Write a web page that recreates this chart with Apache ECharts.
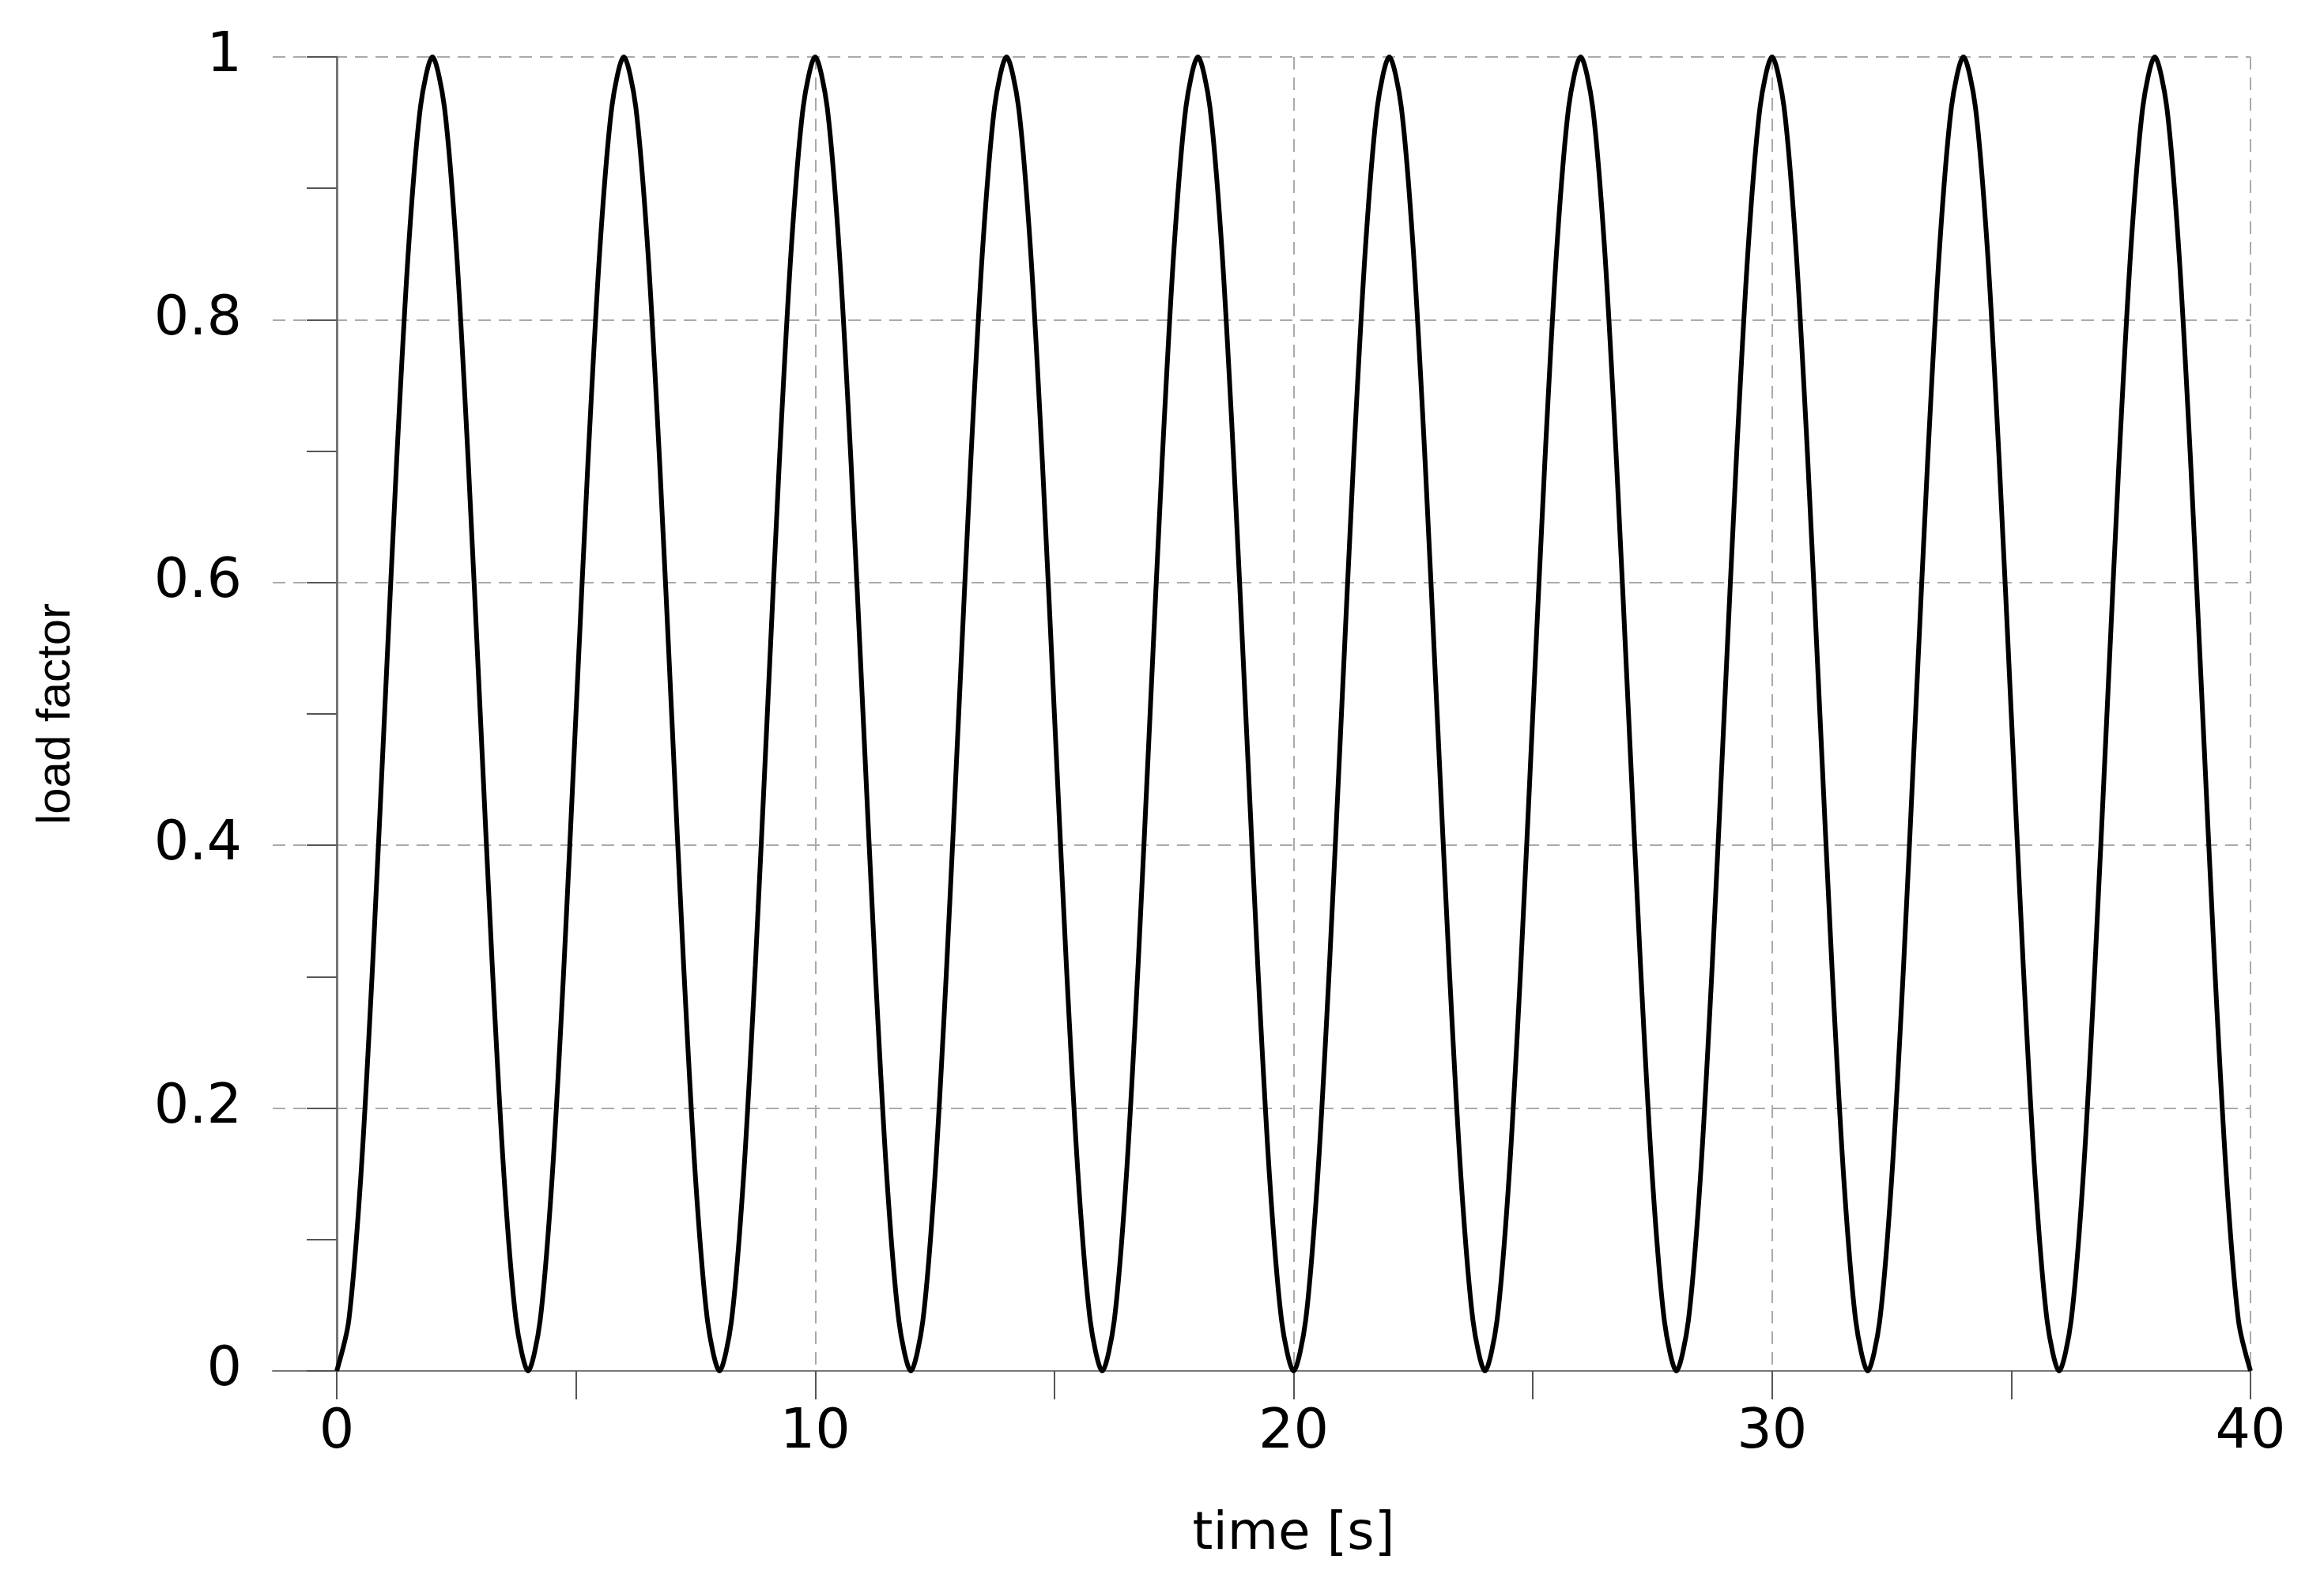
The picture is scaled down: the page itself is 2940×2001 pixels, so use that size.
<!DOCTYPE html>
<html>
<head>
<meta charset="utf-8">
<script src="https://cdn.jsdelivr.net/npm/echarts@6/dist/echarts.min.js"></script>
<style>html,body{margin:0;background:#fff}#c{width:2940px;height:2001px}</style>
</head>
<body>
<div id="c"></div>
<script>
// time in s, 0.25 s steps
var times=[];
for(var i=0;i<=160;i++){times.push(i*0.25)}
// load factor
var load=[
 0,0.038,0.146,0.309,0.5,0.691,0.854,0.962,1,0.962,0.854,0.691,0.5,0.309,0.146,0.038,
 0,0.038,0.146,0.309,0.5,0.691,0.854,0.962,1,0.962,0.854,0.691,0.5,0.309,0.146,0.038,
 0,0.038,0.146,0.309,0.5,0.691,0.854,0.962,1,0.962,0.854,0.691,0.5,0.309,0.146,0.038,
 0,0.038,0.146,0.309,0.5,0.691,0.854,0.962,1,0.962,0.854,0.691,0.5,0.309,0.146,0.038,
 0,0.038,0.146,0.309,0.5,0.691,0.854,0.962,1,0.962,0.854,0.691,0.5,0.309,0.146,0.038,
 0,0.038,0.146,0.309,0.5,0.691,0.854,0.962,1,0.962,0.854,0.691,0.5,0.309,0.146,0.038,
 0,0.038,0.146,0.309,0.5,0.691,0.854,0.962,1,0.962,0.854,0.691,0.5,0.309,0.146,0.038,
 0,0.038,0.146,0.309,0.5,0.691,0.854,0.962,1,0.962,0.854,0.691,0.5,0.309,0.146,0.038,
 0,0.038,0.146,0.309,0.5,0.691,0.854,0.962,1,0.962,0.854,0.691,0.5,0.309,0.146,0.038,
 0,0.038,0.146,0.309,0.5,0.691,0.854,0.962,1,0.962,0.854,0.691,0.5,0.309,0.146,0.038,
 0];
var pts=[];
for(var i=0;i<times.length;i++){pts.push([times[i],load[i]])}

var font='DejaVu Sans';
var dash={type:[16,10],color:'#aaa',width:2};
var myChart=echarts.init(document.getElementById('c'));
option={
  animation:false,
  grid:[
    {left:345,right:93,top:72,bottom:267},
    {left:426,right:93,top:72,bottom:267}
  ],
  xAxis:[
    {gridIndex:0,type:'value',min:0,max:1,axisLabel:{show:false},axisTick:{show:false},
     splitLine:{show:false},axisLine:{lineStyle:{color:'#777',width:2}}},
    {gridIndex:1,type:'value',min:0,max:40,interval:5,
     axisLine:{show:false},
     axisTick:{show:true,length:36,lineStyle:{color:'#555',width:2}},
     splitLine:{show:false},
     axisLabel:{margin:44,fontFamily:font,fontSize:70,color:'#000',
       formatter:function(v){return v%10===0?String(v):''}},
     name:'time [s]',nameLocation:'middle',nameGap:175,
     nameTextStyle:{fontFamily:font,fontSize:66,color:'#000'}},
    {gridIndex:1,type:'value',min:0,max:40,interval:10,show:true,
     axisLine:{show:false},axisTick:{show:false},axisLabel:{show:false},
     splitLine:{show:true,lineStyle:dash}}
  ],
  yAxis:[
    {gridIndex:0,type:'value',min:0,max:1,interval:0.2,axisLine:{show:false},
     axisTick:{show:false},axisLabel:{show:false},splitLine:{show:true,lineStyle:dash}},
    {gridIndex:1,type:'value',min:0,max:1,interval:0.1,
     axisLine:{show:true,lineStyle:{color:'#777',width:3}},
     axisTick:{show:true,length:38,lineStyle:{color:'#555',width:2}},
     splitLine:{show:false},
     axisLabel:{margin:120,fontFamily:font,fontSize:70,color:'#000',
       formatter:function(v){var r=Math.round(v*10);return r%2===0?String(r/10):''}},
     name:'load factor',nameLocation:'middle',nameGap:325,
     nameTextStyle:{fontFamily:'Liberation Sans',fontSize:60,color:'#000'}}
  ],
  series:[{
    type:'line',xAxisIndex:1,yAxisIndex:1,data:pts,smooth:0.3,
    showSymbol:false,lineStyle:{color:'#000',width:6}
  }]
};
option && myChart.setOption(option);
</script>
</body>
</html>
